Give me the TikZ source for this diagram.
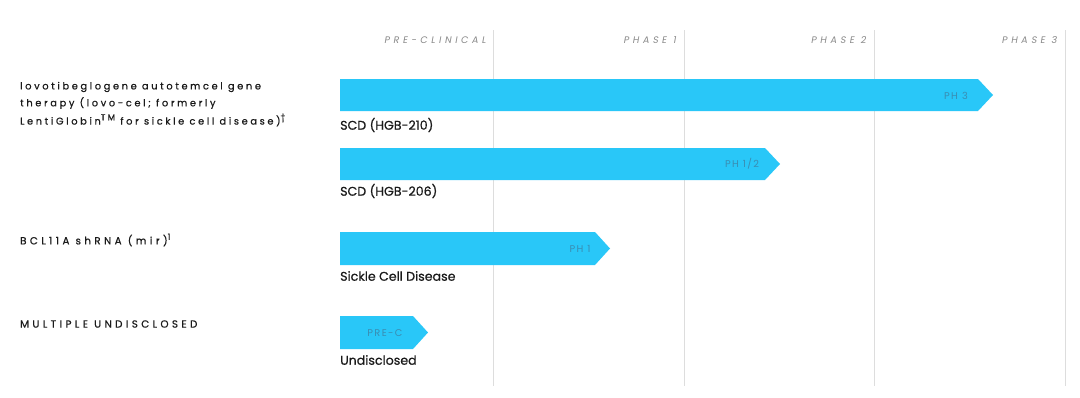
\documentclass[tikz,border=0pt]{standalone}
\usepackage{fontspec}
\setmainfont{Poppins}
\newfontfamily\leftfont[LetterSpace=27,FakeBold=0.6]{Poppins}
\newfontfamily\leftcapsfont[LetterSpace=33,FakeBold=0.6]{Poppins}
\newfontfamily\hdrfont[LetterSpace=38,FakeSlant=0.18]{Poppins}
\newfontfamily\barfont[LetterSpace=14]{Poppins}
\newfontfamily\subfont[FakeBold=0.6]{Poppins}
\newcommand{\supx}[1]{\raisebox{0.8ex}{\fontsize{8.5}{9}\selectfont #1}}
\definecolor{barcyan}{HTML}{29C7F8}
\definecolor{gridgrey}{HTML}{DDDDDD}
\definecolor{hdrgrey}{HTML}{8A8A8A}
\definecolor{bartext}{HTML}{3A8DB2}
\definecolor{labeltext}{HTML}{1A1A1A}
\tikzset{
  gridline/.style={draw=gridgrey, line width=0.9pt},
  hdr/.style={anchor=east, inner sep=0pt, text=hdrgrey, font=\hdrfont\fontsize{9.5}{10}\selectfont},
  bar/.style={fill=barcyan},
  bartag/.style={inner sep=0pt, text=bartext, font=\barfont\fontsize{9.8}{10}\selectfont},
  sublabel/.style={anchor=west, inner sep=0pt, text=labeltext, font=\subfont\fontsize{12.6}{14}\selectfont},
  leftlabel/.style={anchor=west, inner sep=0pt, align=left, text=labeltext, font=\leftfont\fontsize{9.8}{16}\selectfont},
  leftcaps/.style={anchor=west, inner sep=0pt, align=left, text=labeltext, font=\leftcapsfont\fontsize{10.3}{16}\selectfont},
}
\begin{document}
\begin{tikzpicture}[x=1pt,y=-1pt]
\useasboundingbox[fill=white] (0,0) rectangle (1080,397);
\foreach \x in {493,684,874,1065} \draw[gridline] (\x,30) -- (\x,386);
\node[hdr] (hpre) at (486,40) {PRE-CLINICAL};
\node[hdr] (hp1) at (676,40) {PHASE 1};
\node[hdr] (hp2) at (866,40) {PHASE 2};
\node[hdr] (hp3) at (1057,40) {PHASE 3};
% bars
\fill[bar] (340,79) -- (978,79) -- (993,95) -- (978,111) -- (340,111) -- cycle;
\fill[bar] (340,148) -- (765,148) -- (780,164) -- (765,180) -- (340,180) -- cycle;
\fill[bar] (340,232) -- (595,232) -- (610,248.5) -- (595,265) -- (340,265) -- cycle;
\fill[bar] (340,316) -- (413,316) -- (428,332.5) -- (413,349) -- (340,349) -- cycle;
\node[bartag] (t1) at (956,96) {PH 3};
\node[bartag] (t2) at (742,164) {PH 1/2};
\node[bartag] (t3) at (580,249) {PH 1};
\node[bartag] (t4) at (385,333) {PRE-C};
\node[sublabel] (s1) at (340,125) {SCD (HGB-210)};
\node[sublabel] (s2) at (340,191) {SCD (HGB-206)};
\node[sublabel] (s3) at (340,276) {Sickle Cell Disease};
\node[sublabel] (s4) at (340,360) {Undisclosed};
\node[leftlabel] (l1a) at (20,87) {lovotibeglogene autotemcel gene};
\node[leftlabel] (l1b) at (20,103) {therapy (lovo-cel; formerly};
\node[leftlabel] (l1c) at (20,120) {LentiGlobin\supx{TM} for sickle cell disease)\supx{†}};
\node[leftcaps] (l2) at (20,240) {BCL11A shRNA (mir)\supx{1}};
\node[leftcaps] (l3) at (20,324) {MULTIPLE UNDISCLOSED};
\end{tikzpicture}
\end{document}
